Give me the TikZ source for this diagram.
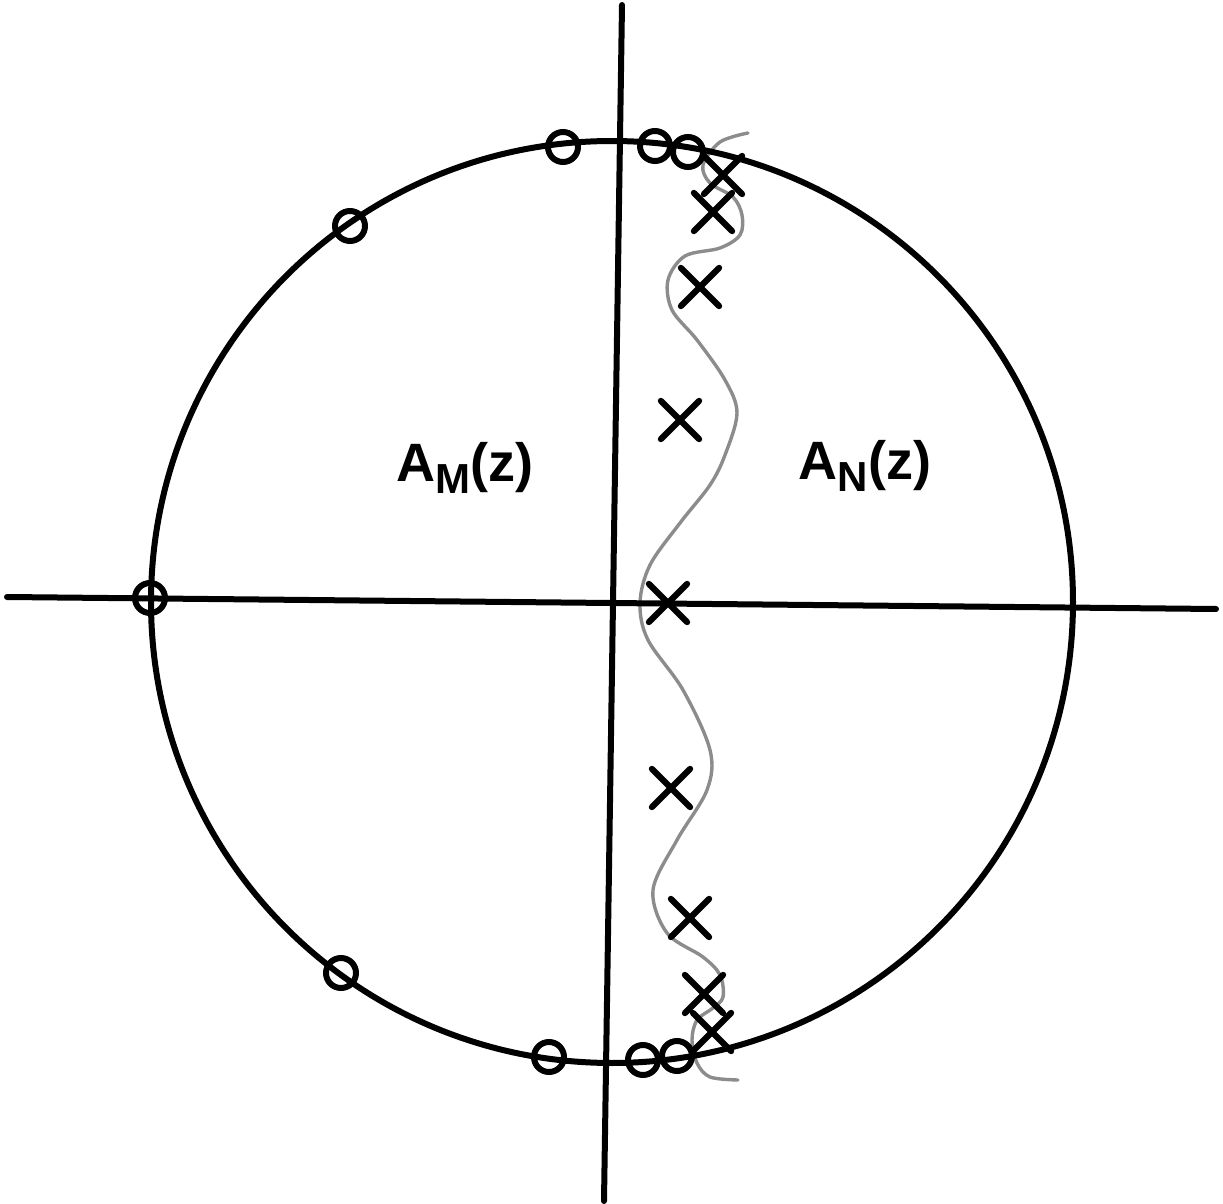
\documentclass[tikz,border=0pt]{standalone}
\usepackage{fontspec}
\setsansfont{Liberation Sans}
\usepackage{tikz}
\usetikzlibrary{shapes.misc}
\definecolor{ink}{HTML}{000000}
\definecolor{pencil}{HTML}{8C8C8C}
\tikzset{
  axis/.style={line width=3pt,line cap=round,color=ink},
  unitcirc/.style={line width=3pt,color=ink},
  zero/.style={circle,draw=ink,line width=3pt,minimum size=15pt,inner sep=0pt},
  pole/.style={cross out,draw=ink,line width=3.1pt,line cap=round,minimum size=16pt,inner sep=0pt},
  contour/.style={line width=1.7pt,color=pencil,line cap=round},
  region/.style={font=\sffamily\bfseries\fontsize{27}{31}\selectfont,inner sep=0pt},
}
\newcommand{\filt}[1]{A\raisebox{-.4ex}{\fontsize{21}{24}\selectfont #1}(z)}

\begin{document}
\begin{tikzpicture}[x=0.5pt,y=-0.5pt]
  \useasboundingbox (0,0) rectangle (1223,1204);
  \coordinate (o) at (612,602);
  \coordinate (west) at (7,597);
  \coordinate (east) at (1216,609);
  \coordinate (north) at (622,5);
  \coordinate (south) at (604,1201);
  % pencil curve separating the two factors
  \draw[contour] plot[smooth,tension=.55] coordinates {
    (748,133) (720,142) (703,165) (710,183) (733,197) (742,215) (740,235)
    (720,248) (685,256) (668,280) (672,310) (697,340) (725,380) (737,413)
    (725,455) (710,485) (680,523) (650,565) (640,603) (648,640) (683,690)
    (710,750) (707,790) (677,840) (653,890) (667,933) (703,957) (720,975)
    (723,997) (713,1008) (697,1020) (692,1040) (697,1063) (710,1077) (738,1080)};
  \draw[axis] (west) -- (east);
  \draw[axis] (north) -- (south);
  \draw[unitcirc] (o) circle[radius=461];
  % zeros
  \foreach \p [count=\i] in {(563,147),(655,146),(688,152),(350,226),(150,598),
      (341,973),(549,1057),(643,1060),(677,1056)}
    \node[zero] (z\i) at \p {};
  % poles
  \foreach \p [count=\i] in {(723,175),(713,212),(700,287),(680,420),(668,603),
      (671,788),(690,918),(704,994),(712,1032)}
    \node[pole] (p\i) at \p {};
  \node[region] (am) at (465,468) {\filt{M}};
  \node[region] (an) at (865,466) {\filt{N}};
\end{tikzpicture}
\end{document}
